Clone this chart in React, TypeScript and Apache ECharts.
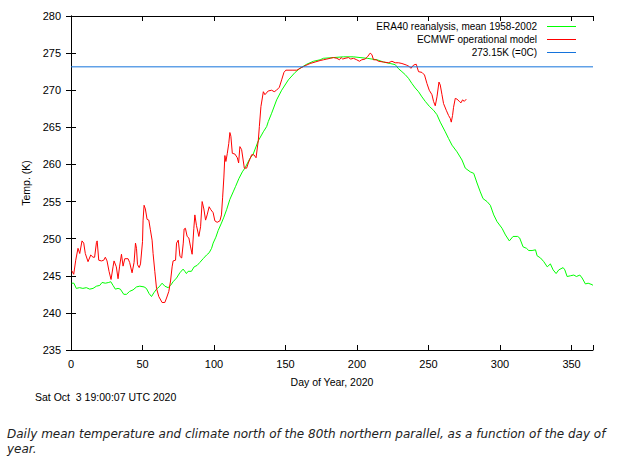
import React, { useEffect, useRef } from "react";
import * as echarts from "echarts";

const xTicks = [0, 50, 100, 150, 200, 250, 300, 350];
const yTicks = [235, 240, 245, 250, 255, 260, 265, 270, 275, 280];

const eraDays = [
  0.5, 2, 3.7, 6, 8.3, 10.7, 13.1, 15.4, 17.8, 20.1, 21.7, 24, 26.4, 27.8, 29.4, 31, 32.9, 34.5, 36.9, 38.8,
  41, 43.4, 45.8, 48.1, 51.1, 52.7, 54.6, 56.3, 57.9, 59.8, 61.6, 63.7, 65.6, 67.9, 69.6, 71.4, 73.8, 76.1,
  78.4, 79.6, 80.7, 81.9, 84.2, 86.1, 88.2, 90.1, 92.4, 94.8, 96.6, 98.3, 99.4, 101.3, 102.9, 105.2, 106.9,
  108.8, 111.1, 113.4, 115, 117.4, 119.8, 121.6, 125.1, 127.4, 131, 134.5, 136.8, 138, 140.3, 143.8, 147.3,
  152, 156.7, 160.1, 164.8, 169.5, 174.2, 176.5, 183.5, 190.5, 197.5, 202.1, 207.1, 210.4, 214, 218.5, 223.2,
  226.7, 229, 231.4, 233.7, 236, 238.4, 240.7, 243, 245.4, 247.7, 250.7, 253.5, 255.9, 258.2, 261.7, 264,
  266.4, 269.9, 273.4, 275.7, 279.2, 281.6, 283.9, 286.2, 288.1, 290.9, 293.2, 295.6, 297.9, 301.4, 303.8,
  306.5, 309.1, 312.3, 313.7, 316.1, 318.5, 320.1, 322.4, 324.8, 325.9, 328.3, 330.6, 333, 335.2, 337.1,
  339.2, 341.1, 344.1, 345.3, 346.9, 349.2, 351.6, 353.4, 355.8, 357.4, 359.7, 361.6, 364.4, 365,
];
const eraTemps = [
  244.0, 244.0, 243.3, 243.4, 243.3, 243.4, 243.2, 243.3, 243.6, 243.7, 244.1, 244.0, 244.1, 244.2, 243.7,
  243.2, 243.3, 243.2, 242.5, 242.5, 242.9, 243.1, 243.5, 243.6, 243.5, 243.3, 242.6, 242.2, 242.7, 243.2,
  243.5, 244.0, 243.6, 243.4, 243.7, 244.2, 244.7, 245.4, 245.9, 245.6, 245.3, 245.6, 245.6, 246.2, 246.4,
  246.8, 247.3, 247.8, 248.1, 248.7, 249.4, 250.2, 251.1, 252.1, 252.9, 253.9, 255.3, 256.3, 257, 258.1,
  259, 259.5, 260.8, 261.4, 263.2, 264.4, 265.1, 265.8, 266.9, 268.7, 270, 271.4, 272.4, 272.95, 273.5,
  273.9, 274.1, 274.3, 274.4, 274.5, 274.5, 274.4, 274.3, 274.2, 274.1, 273.8, 273.6, 273.45, 272.9, 272.5,
  272.1, 271.6, 270.9, 270.3, 269.8, 269.1, 268.5, 267.8, 267.3, 266.7, 265.7, 264.4, 263.5, 262.6, 261.7,
  260.6, 259.5, 259, 258.8, 257.5, 256.3, 255.4, 255, 254.5, 253.2, 252.3, 251.4, 250.5, 249.7, 250.3,
  250.3, 250.1, 248.9, 248.7, 248.4, 248.4, 248.5, 247.7, 247.4, 246.9, 246.2, 246.6, 245.8, 245.3, 245.8,
  246.1, 245.8, 244.9, 245, 245.1, 244.9, 245.1, 244.7, 243.9, 244, 243.8, 243.7,
];

const ecmwfDays = [
  0.5, 1.9, 3.3, 4.9, 6.1, 7.7, 8.9, 10, 11.9, 13.8, 15.4, 16.5, 17.8, 18.3, 19.4, 21.3, 22.9, 24, 25.2, 26.6,
  28, 29.4, 30.1, 31.7, 32.9, 34, 35.3, 36.4, 37.6, 39.9, 41, 42.7, 44.1, 45.1, 45.8, 46.5, 47.7, 48.6, 50,
  50.4, 51.1, 52, 53.2, 54.4, 55.5, 56.7, 57.4, 58.6, 59.8, 61.4, 63.7, 65.6, 66.8, 68.4, 69.6, 70.7, 71.4,
  73.1, 73.8, 75, 76.2, 77.4, 78.5, 79.1, 80, 81.2, 82.4, 83.5, 84.7, 85.9, 86.6, 87.7, 89.4, 90.6, 91.7,
  92.9, 94.1, 95.2, 96.6, 97.8, 99.4, 100.6, 102.2, 104.1, 105.2, 106, 106.9, 107.6, 108.3, 109.3, 110.3,
  111.1, 111.8, 112.8, 114.6, 116.3, 117.2, 118.1, 119.3, 121.2, 122.8, 124, 126.3, 127.9, 129.4, 131,
  131.7, 132.8, 134.5, 135.6, 137.9, 140.3, 142.1, 143.7, 145.7, 147.3, 148.9, 150.2, 155.2, 157.9, 160.1,
  163.7, 167.2, 170.7, 174.2, 176.5, 178.9, 181.2, 183.5, 185.9, 187.7, 188.9, 190, 191.6, 194, 195.6,
  197.5, 199.8, 201.7, 203.3, 205.6, 207.3, 209.2, 210.4, 211.5, 213.4, 215, 218.5, 222, 224.4, 226.7, 229,
  231.4, 234.4, 236.5, 237.7, 239.6, 241.4, 243, 245.4, 247.2, 248.9, 250.5, 252.4, 253.5, 254.7, 255.9,
  257.3, 258.2, 259.4, 260.5, 262.4, 264, 265.2, 265.9, 266.8, 267.5, 268.7, 269.9, 271.5, 272.7, 273.8,
  275, 276.4,
];
const ecmwfTemps = [
  245.7, 245.2, 247.1, 248.7, 248.0, 249.7, 249.4, 248, 246.9, 247.8, 247.5, 247.5, 249.5, 249.7, 247.1, 247.0,
  247.1, 247.5, 247, 245.6, 244.5, 246.2, 247, 246.2, 244.6, 246.3, 247.9, 246.3, 247.3, 247.3, 246.8, 245.4,
  246.8, 249.4, 248.7, 246.5, 246.1, 246.6, 249.6, 252.5, 254.5, 254, 252.6, 252.5, 251.2, 249.8, 248, 245.6,
  243.3, 242.2, 241.4, 241.4, 242, 242.9, 244.3, 246.2, 247, 247.1, 249.4, 249.8, 247.6, 247.4, 249.4, 251.3,
  251.4, 250.3, 250.1, 249, 247.9, 251.4, 253.2, 251.8, 250.3, 251.6, 255, 254, 252.5, 253.2, 254.3, 253.9,
  253.5, 252.4, 252.2, 252.4, 253.2, 255.5, 258.3, 261.2, 260.4, 261.5, 262.8, 264.3, 263.8, 261.5, 261.4,
  260.9, 260.2, 262.4, 262, 259.5, 259.5, 260.2, 261.3, 261.3, 260.9, 263.3, 265.1, 267.8, 269.8, 269.4,
  269.9, 270, 269.8, 270, 270.4, 271.4, 272.4, 272.7, 272.7, 272.7, 272.95, 273.3, 273.6, 273.8, 274.0,
  274.1, 274.2, 274.3, 274.4, 274.3, 274.1, 274.4, 274.2, 274.3, 274.4, 274.2, 274.3, 274.1, 273.9, 274.1,
  274.2, 274.5, 275, 274.8, 274.1, 274.1, 273.9, 273.8, 273.7, 273.9, 273.7, 273.7, 273.6, 273.4, 273.2,
  272.95, 273.4, 273.5, 272.5, 272.4, 272.05, 270.9, 270.0, 269.4, 268.5, 267.9, 269.1, 271.1, 270.7, 269.4,
  268.2, 267.3, 266.6, 266.2, 265.7, 266.6, 267.7, 268.9, 268.8, 268.5, 268.3, 268.7, 268.5, 268.8,
];

const freezeDays = [0, 365];
const freezeTemps = [273.15, 273.15];

const seriesNames = ["ERA40 reanalysis, mean 1958-2002", "ECMWF operational model", "273.15K (=0C)"];
const xName = "Day of Year, 2020";
const yName = "Temp. (K)";
const stamp = "Sat Oct  3 19:00:07 UTC 2020";
const caption =
  "Daily mean temperature and climate north of the 80th northern parallel, as a function of the day of\nyear.";

const zip = (a: number[], b: number[]) => a.map((v, i) => [v, b[i]]);

export default function App() {
  const ref = useRef<HTMLDivElement>(null);
  useEffect(() => {
    if (!ref.current) return;
    const chart = echarts.init(ref.current, undefined, { renderer: "svg" });
    const font = "'Liberation Sans', Arial, sans-serif";
    const axisCommon = {
      type: "value" as const,
      axisLine: { show: true, lineStyle: { color: "#000", width: 1 } },
      axisTick: { show: true, inside: true, length: 5, lineStyle: { color: "#000", width: 1 } },
      splitLine: { show: false },
    };
    chart.setOption({
      animation: false,
      backgroundColor: "#fff",
      textStyle: { fontFamily: font },
      grid: { left: 71, right: 42, top: 16, bottom: 111, containLabel: false },
      legend: {
        orient: "vertical",
        align: "right",
        right: 54,
        top: 15,
        itemWidth: 29,
        itemHeight: 1,
        itemGap: 0,
        icon: "rect",
        selectedMode: false,
        textStyle: { fontSize: 10, color: "#000", fontFamily: font, lineHeight: 13, padding: [0, 5, 0, 0] },
        data: seriesNames,
      },
      xAxis: [
        {
          ...axisCommon,
          position: "bottom",
          min: 0,
          max: 365,
          interval: 50,
          name: xName,
          nameLocation: "middle",
          nameGap: 26,
          nameTextStyle: { fontSize: 10.5, color: "#000", fontFamily: font },
          axisLabel: {
            fontSize: 11,
            color: "#000",
            margin: 8,
            fontFamily: font,
            formatter: (v: number) => (xTicks.includes(v) ? String(v) : ""),
          },
        },
        {
          ...axisCommon,
          position: "top",
          min: 0,
          max: 365,
          interval: 50,
          axisLabel: { show: false },
        },
      ],
      yAxis: [
        {
          ...axisCommon,
          position: "left",
          min: yTicks[0],
          max: yTicks[yTicks.length - 1],
          interval: 5,
          name: yName,
          nameLocation: "middle",
          nameGap: 38,
          nameRotate: 90,
          nameTextStyle: { fontSize: 10.5, color: "#000", fontFamily: font },
          axisLabel: { fontSize: 11, color: "#000", margin: 10, fontFamily: font },
        },
        {
          ...axisCommon,
          position: "right",
          min: yTicks[0],
          max: yTicks[yTicks.length - 1],
          interval: 5,
          axisLabel: { show: false },
        },
      ],
      series: [
        {
          name: seriesNames[0],
          type: "line",
          data: zip(eraDays, eraTemps),
          symbol: "none",
          lineStyle: { color: "#00ff00", width: 1 },
          itemStyle: { color: "#00ff00" },
        },
        {
          name: seriesNames[1],
          type: "line",
          data: zip(ecmwfDays, ecmwfTemps),
          symbol: "none",
          lineStyle: { color: "#ff0000", width: 1 },
          itemStyle: { color: "#ff0000" },
        },
        {
          name: seriesNames[2],
          type: "line",
          data: zip(freezeDays, freezeTemps),
          symbol: "none",
          lineStyle: { color: "#1473dc", width: 1 },
          itemStyle: { color: "#1473dc" },
        },
      ],
      graphic: [
        {
          type: "text",
          left: 35,
          top: 391,
          style: { text: stamp, fontSize: 10.5, fill: "#000", fontFamily: font },
        },
        {
          type: "text",
          left: 7,
          top: 426,
          style: {
            text: caption,
            fontSize: 12,
            fontStyle: "italic",
            lineHeight: 15,
            fill: "#222",
            fontFamily: "'DejaVu Sans', Verdana, sans-serif",
          },
        },
      ],
    });
    return () => chart.dispose();
  }, []);
  return (
    <div
      ref={ref}
      style={{ position: "absolute", left: 0, top: 0, width: 635, height: 461, background: "#fff" }}
    />
  );
}
